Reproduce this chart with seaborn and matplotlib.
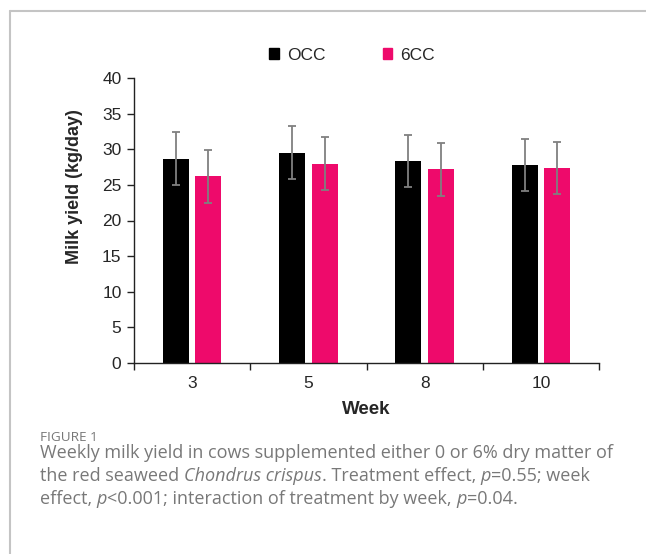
import matplotlib
matplotlib.use('Agg')
import matplotlib.pyplot as plt
import matplotlib.patches as mpatches
from matplotlib.lines import Line2D
import pandas as pd
import seaborn as sns

#### DATA ####
weeks = ['3', '5', '8', '10']
groups = ['OCC', '6CC']
occ_mean = [28.7, 29.5, 28.4, 27.8]
occ_sd = [3.7, 3.7, 3.65, 3.65]
cc6_mean = [26.2, 28.0, 27.2, 27.3]
cc6_sd = [3.75, 3.7, 3.7, 3.65]
y_ticks = [0, 5, 10, 15, 20, 25, 30, 35, 40]
caption_head = 'FIGURE 1'
# (text, italic) pieces per caption line
caption_lines = [
    [('Weekly milk yield in cows supplemented either 0 or 6% dry matter of', False)],
    [('the red seaweed ', False), ('Chondrus crispus', True),
     ('. Treatment effect, ', False), ('p', True), ('=0.55; week', False)],
    [('effect, ', False), ('p', True), ('<0.001; interaction of treatment by week, ', False),
     ('p', True), ('=0.04.', False)],
]

colors = {'OCC': '#000000', '6CC': '#ee0a6b'}

df = pd.DataFrame({
    'Week': weeks * 2,
    'Group': ['OCC'] * len(weeks) + ['6CC'] * len(weeks),
    'Yield': occ_mean + cc6_mean,
    'SD': occ_sd + cc6_sd,
})

sns.set_style('white')
plt.rcParams['font.family'] = ['Liberation Sans', 'DejaVu Sans']

fig = plt.figure(figsize=(6.46, 5.54), dpi=100)
ax = fig.add_axes([134 / 646, 1 - 363 / 554, 465 / 646, 285 / 554])

sns.barplot(data=df, x='Week', y='Yield', hue='Group', order=weeks,
            hue_order=groups, palette=colors, width=0.56, gap=0.2,
            saturation=1, errorbar=None, legend=False, ax=ax, linewidth=0)

# error bars at the bar centres, sorted left to right
bars = sorted([p for p in ax.patches], key=lambda p: p.get_x())
sds = []
for i in range(len(weeks)):
    sds += [occ_sd[i], cc6_sd[i]]
for p, sd in zip(bars, sds):
    ax.errorbar(p.get_x() + p.get_width() / 2, p.get_height(), yerr=sd,
                color='#808080', elinewidth=1.3, capsize=2.6, capthick=1.3,
                zorder=5)

ax.set_ylim(0, 40)
ax.set_xlim(-0.5, len(weeks) - 0.5)
ax.set_yticks(y_ticks)
ax.set_xticks(range(len(weeks)))
ax.set_xticks([i - 0.5 for i in range(len(weeks) + 1)], minor=True)
ax.tick_params(axis='y', which='major', direction='out', length=5, width=1,
               labelsize=12.5, pad=4, color='#222222', left=True)
ax.tick_params(axis='x', which='major', length=0, labelsize=12.5, pad=9)
ax.tick_params(axis='x', which='minor', direction='out', length=5, width=1,
               color='#222222', bottom=True)
for s in ['top', 'right']:
    ax.spines[s].set_visible(False)
for s in ['left', 'bottom']:
    ax.spines[s].set_color('#222222')
    ax.spines[s].set_linewidth(1)

ax.set_xlabel('Week', fontsize=13.5, fontweight='bold')
ax.set_ylabel('Milk yield (kg/day)', fontsize=13, fontweight='bold')
ax.xaxis.set_label_coords(0.5, -0.135)
ax.yaxis.set_label_coords(-0.11, 0.62)

handles = [mpatches.Patch(color=colors[g], label=g) for g in groups]
fig.legend(handles=handles, loc='center', bbox_to_anchor=(352 / 646, 1 - 55 / 554),
           ncol=2, frameon=False, fontsize=12.5, handlelength=0.55,
           handleheight=0.55, handletextpad=0.45, columnspacing=3.3)

# frame around the figure panel
fig.add_artist(Line2D([10 / 646, 1.0], [1 - 11 / 554] * 2, transform=fig.transFigure,
                      color='#c4c4c4', lw=1.5))
fig.add_artist(Line2D([10 / 646] * 2, [0, 1 - 11 / 554], transform=fig.transFigure,
                      color='#c4c4c4', lw=1.5))

cap_font = ['Open Sans', 'DejaVu Sans']
fig.text(40 / 646, 1 - 441 / 554, caption_head, fontsize=9.7, color='#777777',
         family=cap_font, va='baseline')

renderer = fig.canvas.get_renderer()
for i, pieces in enumerate(caption_lines):
    x = 40 / 646
    y = 1 - (458 + 23 * i) / 554
    for txt, ital in pieces:
        t = fig.text(x, y, txt, fontsize=12.95, color='#787878', family=cap_font,
                     style='italic' if ital else 'normal', va='baseline')
        bb = t.get_window_extent(renderer=renderer)
        x = bb.x1 / fig.bbox.width

fig.savefig('out.png', dpi=100)
